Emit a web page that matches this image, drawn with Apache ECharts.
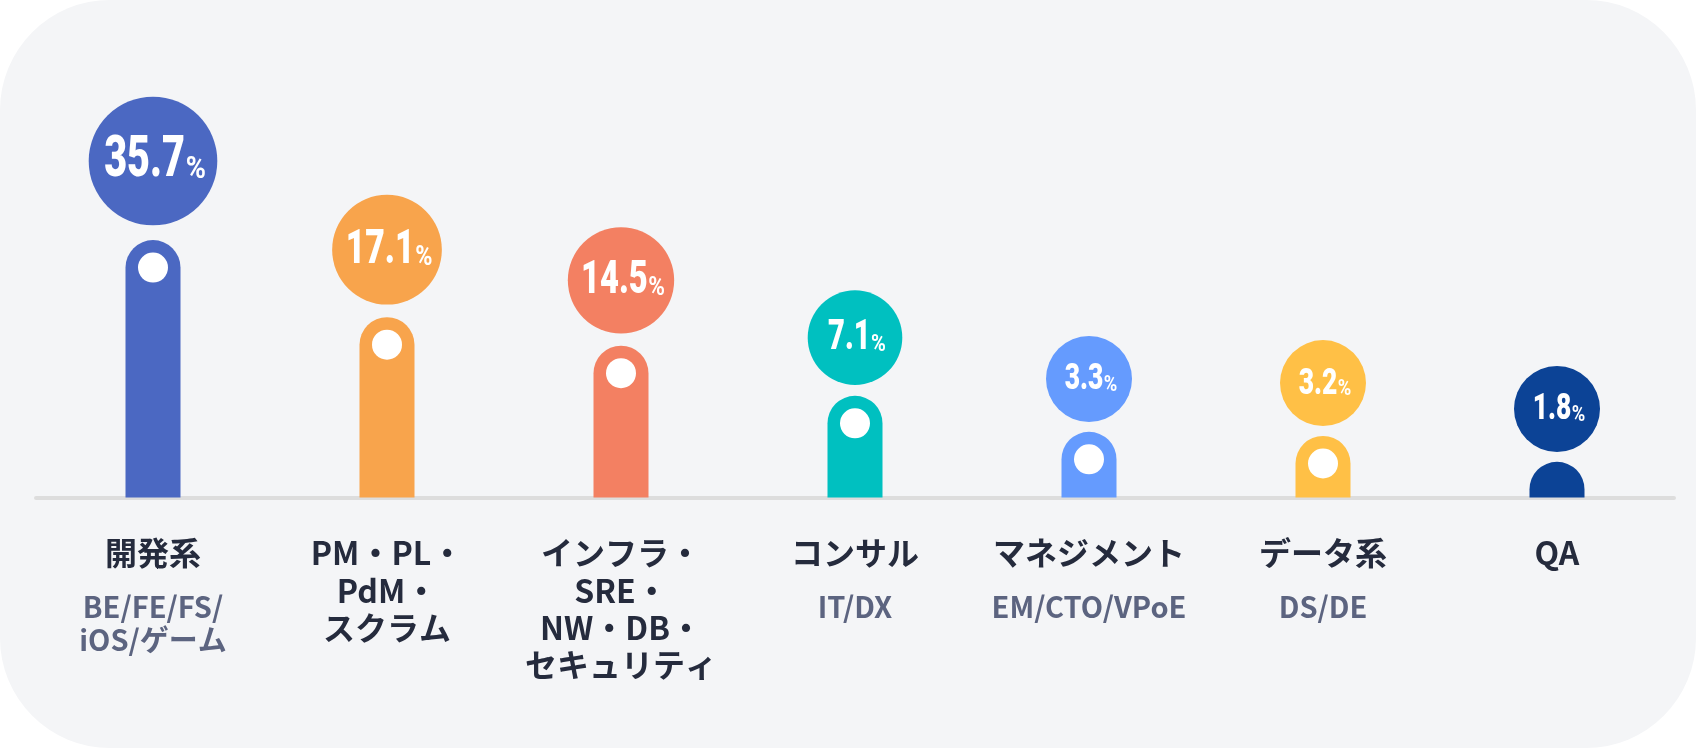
<!DOCTYPE html>
<html lang="ja">
<head>
<meta charset="utf-8">
<title>職種別の割合</title>
<script src="https://cdn.jsdelivr.net/npm/echarts@6.0.0/dist/echarts.min.js"></script>
<style>
  html, body { margin: 0; padding: 0; background: #fff; }
  #chart { width: 1696px; height: 748px; background: #F4F5F7; border-radius: 110px; }
</style>
</head>
<body>
<div id="chart"></div>
<script>
// 職種名（改行は図の通り）
const jobNames = ['開発系', 'PM・PL・\nPdM・\nスクラム', 'インフラ・\nSRE・\nNW・DB・\nセキュリティ', 'コンサル', 'マネジメント', 'データ系', 'QA']
// 補足（小さいグレーの文字）
const jobDetails = ['BE/FE/FS/\niOS/ゲーム', '', '', 'IT/DX', 'EM/CTO/VPoE', 'DS/DE', '']
// 割合 %
const shares = [35.7, 17.1, 14.5, 7.1, 3.3, 3.2, 1.8]
// 棒の長さ（図で描かれている長さ、割合には比例していない）
const barLevels = [85.8, 60.1, 50.6, 33.9, 21.9, 20.5, 11.9]
const colors = ['#4B68C2', '#F8A44C', '#F38062', '#00C0C0', '#659BFE', '#FFC046', '#0C4396']

const numFont = 'Roboto'
const numWeight = '900'
const jpFont = "'Noto Sans CJK JP', 'Noto Sans', sans-serif"
const numScale = 0.7   // 数字は縦長の書体なので横に縮める

// 文字幅を測る
let measureCtx = document.createElement('canvas').getContext('2d')
function textWidth(str, size, weight) {
  measureCtx.font = weight + ' ' + size + 'px ' + numFont
  return measureCtx.measureText(str).width
}

let chart = echarts.init(document.getElementById('chart'))

// 棒 + 白い丸 + 割合の円
function renderPin(params, api) {
  let i = params.dataIndex
  let top = api.coord([api.value(0), api.value(1)])
  let base = api.coord([api.value(0), 0])
  let share = api.value(2)
  let color = colors[i]
  let bw = 55, half = bw / 2
  let R = Math.max(43, 33.6 + 5.14 * Math.sqrt(share))
  let cy = top[1] - 0.23 * R - R
  let fn = 0.88 * R, fp = 0.5 * R
  let label = share.toFixed(1)

  let wN = textWidth(label, fn, numWeight) * numScale
  let wP = textWidth('%', fp, 'bold') * 0.85
  let gap = 0.01 * R
  let xLeft = top[0] + 2 - (wN + gap + wP) / 2
  let ty = cy + 1

  let children = [
    {
      type: 'rect',
      shape: { x: top[0] - half, y: top[1], width: bw, height: base[1] - top[1], r: [half, half, 0, 0] },
      style: { fill: color }
    },
    {
      type: 'circle',
      shape: { cx: top[0], cy: cy, r: R },
      style: { fill: color }
    },
    {
      type: 'text',
      x: xLeft + wN,
      y: ty,
      scaleX: numScale,
      style: {
        text: label, fill: '#fff',
        font: numWeight + ' ' + fn + 'px ' + numFont,
        align: 'right', verticalAlign: 'middle'
      }
    },
    {
      type: 'text',
      x: xLeft + wN + gap,
      y: ty + 0.342 * (fn - fp),
      scaleX: 0.85,
      style: {
        text: '%', fill: '#fff',
        font: 'bold ' + fp + 'px ' + numFont,
        align: 'left', verticalAlign: 'middle'
      }
    }
  ]
  // 棒が短いものには白丸なし
  if (base[1] - top[1] > 50) {
    children.push({
      type: 'circle',
      shape: { cx: top[0], cy: top[1] + half, r: 15 },
      style: { fill: '#fff' }
    })
  }
  return { type: 'group', children: children }
}

let option = {
  backgroundColor: 'transparent',
  animation: false,
  grid: { left: 36, right: 22, top: 197.5, bottom: 250.5 },
  xAxis: {
    type: 'category',
    data: jobNames,
    offset: 2,
    axisLine: { lineStyle: { color: '#DDDDDD', width: 4, cap: 'round' } },
    axisTick: { show: false },
    axisLabel: {
      interval: 0,
      margin: 35,
      verticalAlign: 'top',
      formatter: function (value, index) {
        let s = value.split('\n').map(t => '{t|' + t + '}').join('\n')
        if (jobDetails[index]) {
          s += '\n{g| }\n' + jobDetails[index].split('\n').map(t => '{s|' + t + '}').join('\n')
        }
        return s
      },
      rich: {
        t: { fontFamily: jpFont, fontSize: 32, fontWeight: 'bold', color: '#252B3D', lineHeight: 37.3 },
        g: { fontSize: 10, lineHeight: 19 },
        s: { fontFamily: jpFont, fontSize: 29, fontWeight: 'bold', color: '#5C6480', lineHeight: 33 }
      }
    }
  },
  yAxis: { type: 'value', min: 0, max: 100, show: false },
  series: [{
    type: 'custom',
    clip: false,
    renderItem: renderPin,
    encode: { x: 0, y: 1 },
    data: shares.map((v, i) => [i, barLevels[i], v])
  }]
}

chart.setOption(option)
window.addEventListener('resize', function () {
  chart.resize()
})
</script>
</body>
</html>
